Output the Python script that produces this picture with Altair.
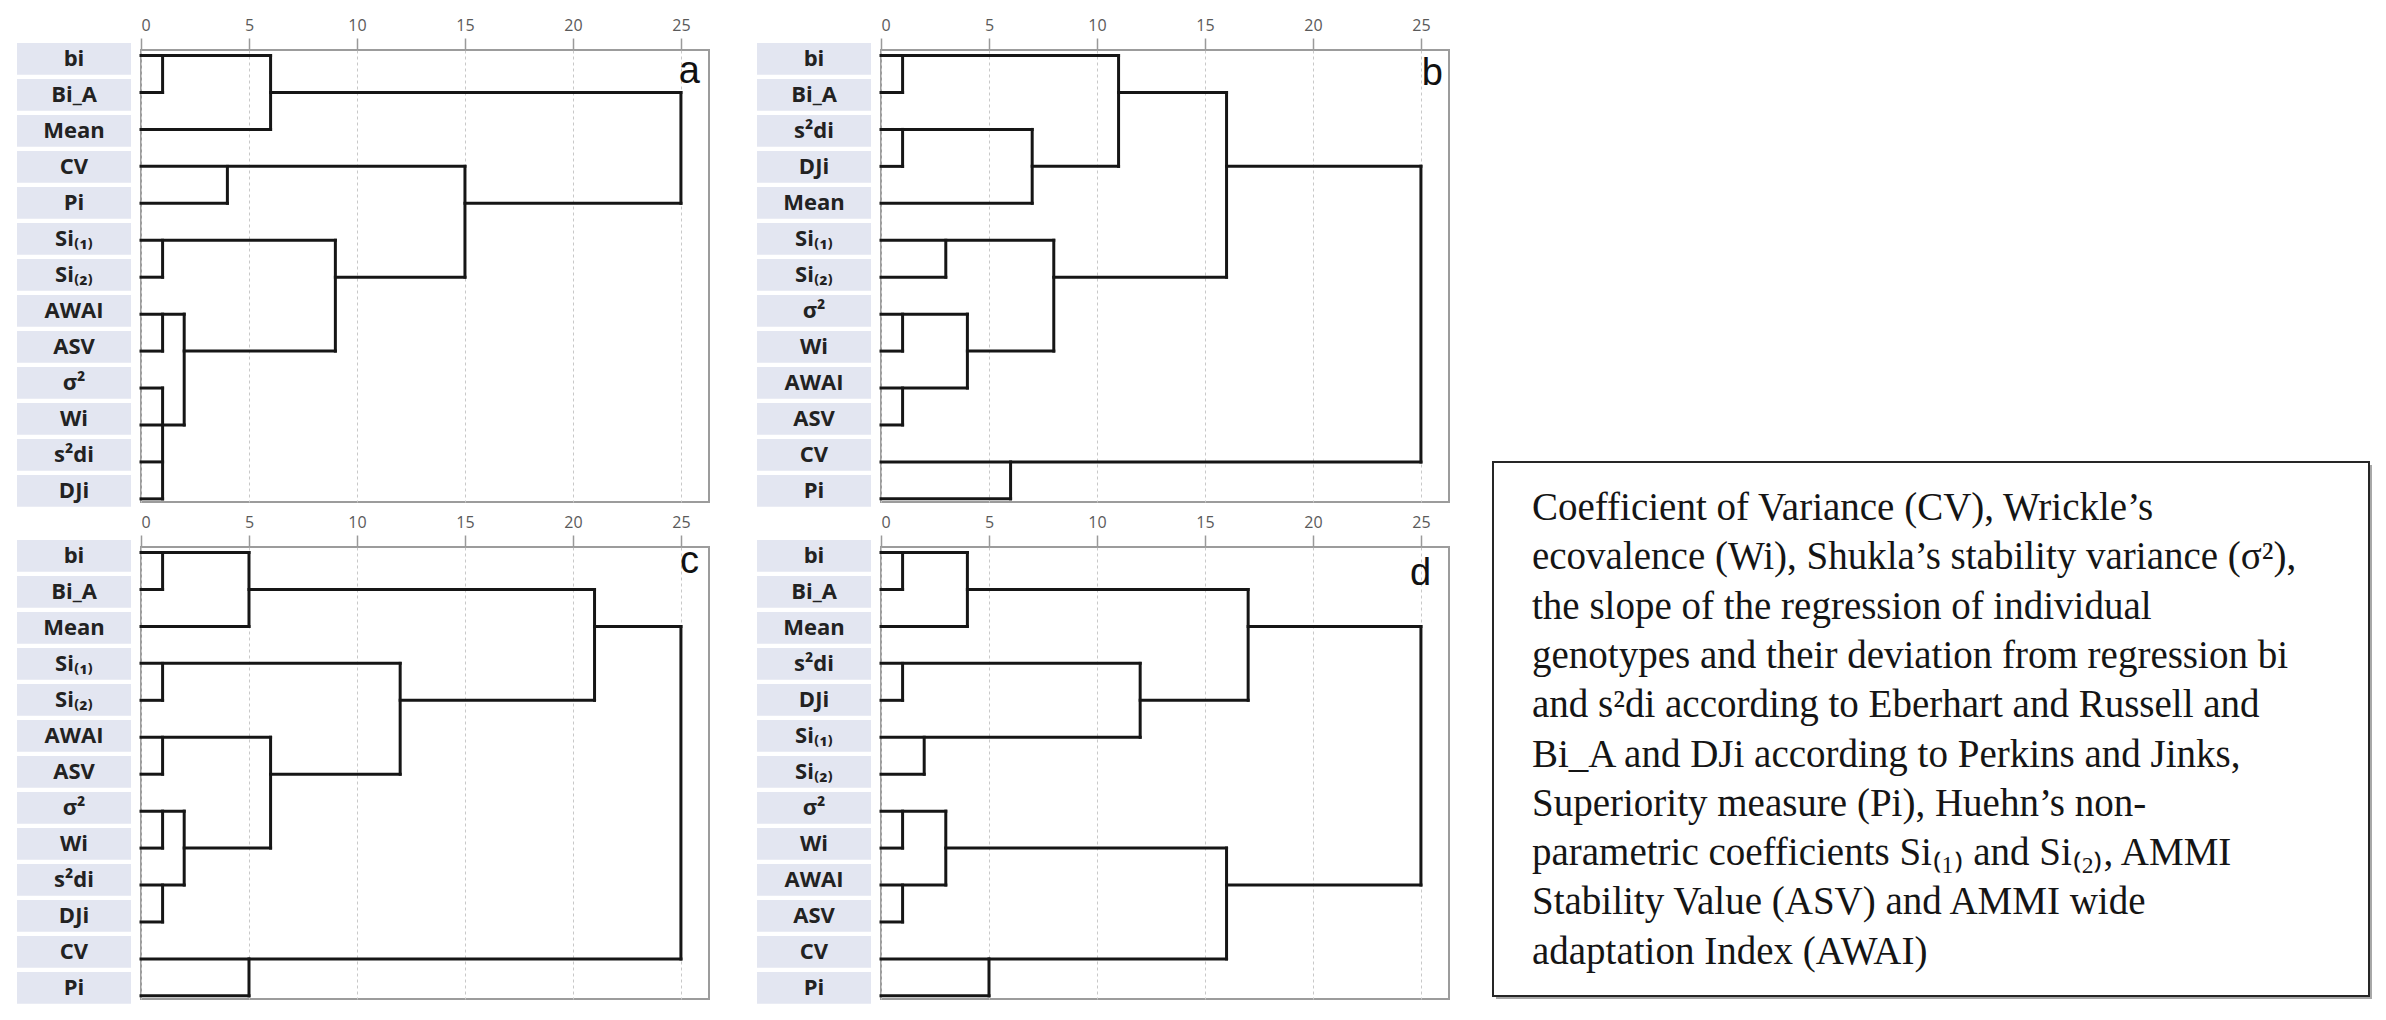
import altair as alt
import pandas as pd

# ---------------- data ----------------
X_TICKS = [0, 5, 10, 15, 20, 25]
X_MAX = 26.3
PANELS = ["a", "b", "c", "d"]

labels_a = ["bi", "Bi_A", "Mean", "CV", "Pi", "Si₍₁₎", "Si₍₂₎", "AWAI", "ASV", "σ²", "Wi", "s²di", "DJi"]
hseg_a = [(0, 0, 6), (1, 0, 1), (1, 6, 25), (2, 0, 6), (3, 0, 15), (4, 0, 4), (4, 15, 25),
          (5, 0, 9), (6, 0, 1), (6, 9, 15), (7, 0, 2), (8, 0, 1), (8, 2, 9), (9, 0, 1),
          (10, 0, 2), (11, 0, 1), (12, 0, 1)]
vseg_a = [(1, 0, 1), (6, 0, 2), (4, 3, 4), (25, 1, 4), (15, 3, 6), (1, 5, 6), (9, 5, 8),
          (1, 7, 8), (2, 7, 10), (1, 9, 12)]

labels_b = ["bi", "Bi_A", "s²di", "DJi", "Mean", "Si₍₁₎", "Si₍₂₎", "σ²", "Wi", "AWAI", "ASV", "CV", "Pi"]
hseg_b = [(0, 0, 11), (1, 0, 1), (1, 11, 16), (2, 0, 7), (3, 0, 1), (3, 7, 11), (3, 16, 25),
          (4, 0, 7), (5, 0, 8), (6, 0, 3), (6, 8, 16), (7, 0, 4), (8, 0, 1), (8, 4, 8),
          (9, 0, 4), (10, 0, 1), (11, 0, 25), (12, 0, 6)]
vseg_b = [(1, 0, 1), (11, 0, 3), (1, 2, 3), (7, 2, 4), (16, 1, 6), (25, 3, 11), (3, 5, 6),
          (8, 5, 8), (1, 7, 8), (4, 7, 9), (1, 9, 10), (6, 11, 12)]

labels_c = ["bi", "Bi_A", "Mean", "Si₍₁₎", "Si₍₂₎", "AWAI", "ASV", "σ²", "Wi", "s²di", "DJi", "CV", "Pi"]
hseg_c = [(0, 0, 5), (1, 0, 1), (1, 5, 21), (2, 0, 5), (2, 21, 25), (3, 0, 12), (4, 0, 1),
          (4, 12, 21), (5, 0, 6), (6, 0, 1), (6, 6, 12), (7, 0, 2), (8, 0, 1), (8, 2, 6),
          (9, 0, 2), (10, 0, 1), (11, 0, 25), (12, 0, 5)]
vseg_c = [(1, 0, 1), (5, 0, 2), (21, 1, 4), (25, 2, 11), (1, 3, 4), (12, 3, 6), (1, 5, 6),
          (6, 5, 8), (1, 7, 8), (2, 7, 9), (1, 9, 10), (5, 11, 12)]

labels_d = ["bi", "Bi_A", "Mean", "s²di", "DJi", "Si₍₁₎", "Si₍₂₎", "σ²", "Wi", "AWAI", "ASV", "CV", "Pi"]
hseg_d = [(0, 0, 4), (1, 0, 1), (1, 4, 17), (2, 0, 4), (2, 17, 25), (3, 0, 12), (4, 0, 1),
          (4, 12, 17), (5, 0, 12), (6, 0, 2), (7, 0, 3), (8, 0, 1), (8, 3, 16), (9, 0, 3),
          (9, 16, 25), (10, 0, 1), (11, 0, 16), (12, 0, 5)]
vseg_d = [(1, 0, 1), (4, 0, 2), (17, 1, 4), (25, 2, 9), (1, 3, 4), (12, 3, 5), (2, 5, 6),
          (1, 7, 8), (3, 7, 9), (1, 9, 10), (16, 8, 11), (5, 11, 12)]

# panel letter anchor (right edge, baseline) in data units
letter_x = [25.88, 26.02, 25.84, 25.47]
letter_y = [0.74, 0.80, 0.55, 0.88]

TEXT_LINES = [
    "Coefficient of Variance (CV), Wrickle’s",
    "ecovalence (Wi), Shukla’s stability variance (σ²),",
    "the slope of the regression of individual",
    "genotypes and their deviation from regression bi",
    "and s²di according to Eberhart and Russell and",
    "Bi_A and DJi according to Perkins and Jinks,",
    "Superiority measure (Pi), Huehn’s non-",
    "parametric coefficients Si₍₁₎ and Si₍₂₎, AMMI",
    "Stability Value (ASV) and AMMI wide",
    "adaptation Index (AWAI)",
]

# ---------------- layout constants ----------------
DEN_W = 568
DEN_H = 452
YDOM = [-0.15, 12.085]
LAB_YDOM = [-0.247, 12.309]
BOX_HALF = 0.44
LAB_X0, LAB_X1 = -124, -10
LINE_COLOR = "#161616"

xs = alt.Scale(domain=[0, X_MAX], nice=False, zero=False)
ys = alt.Scale(domain=YDOM, reverse=True, nice=False, zero=False)
lys = alt.Scale(domain=LAB_YDOM, reverse=True, nice=False, zero=False)

x_axis = alt.Axis(
    orient="top", values=X_TICKS, title=None, grid=True,
    gridDash=[3, 3], gridColor="#c8c8c8", gridWidth=1,
    domain=False, tickColor="#9a9a9a", tickSize=12, tickWidth=1.5,
    labelPadding=5, labelFontSize=16, labelColor="#5a5a5a", labelFont="Open Sans")


def panel(labels, hsegs, vsegs, letter, lx, ly):
    seg_rows = [{"x": x0, "x2": x1, "y": r, "y2": r} for r, x0, x1 in hsegs]
    seg_rows += [{"x": x, "x2": x, "y": r0, "y2": r1} for x, r0, r1 in vsegs]
    segs = pd.DataFrame(seg_rows)
    labs = pd.DataFrame({"label": labels, "row": list(range(len(labels)))})
    let_df = pd.DataFrame({"label": [letter], "x": [lx], "y": [ly]})

    lines = alt.Chart(segs).mark_rule(
        color=LINE_COLOR, strokeWidth=3, strokeCap="square"
    ).encode(
        x=alt.X("x:Q", scale=xs, axis=x_axis),
        x2="x2:Q",
        y=alt.Y("y:Q", scale=ys, axis=None),
        y2="y2:Q",
    )
    let = alt.Chart(let_df).mark_text(
        font="Liberation Sans", fontSize=38, align="right", baseline="alphabetic",
        color="#111111"
    ).encode(
        x=alt.X("x:Q", scale=xs, axis=x_axis),
        y=alt.Y("y:Q", scale=ys, axis=None),
        text="label:N",
    )
    boxes = alt.Chart(labs).transform_calculate(
        r0=f"datum.row - {BOX_HALF}", r1=f"datum.row + {BOX_HALF}"
    ).mark_rect(color="#e3e6f1").encode(
        x=alt.value(LAB_X0), x2=alt.value(LAB_X1),
        y=alt.Y("r0:Q", scale=lys, axis=None), y2="r1:Q",
    )
    txt = alt.Chart(labs).mark_text(
        font="Open Sans", fontWeight="bold", fontSize=22, color="#222222"
    ).encode(
        x=alt.value((LAB_X0 + LAB_X1) / 2),
        y=alt.Y("row:Q", scale=lys, axis=None),
        text="label:N",
    )
    return alt.layer(boxes, txt, lines, let).resolve_scale(y="independent").properties(
        width=DEN_W, height=DEN_H,
        view=alt.ViewBackground(stroke="#9c9c9c", strokeWidth=2))


all_labels = [labels_a, labels_b, labels_c, labels_d]
all_h = [hseg_a, hseg_b, hseg_c, hseg_d]
all_v = [vseg_a, vseg_b, vseg_c, vseg_d]
charts = [panel(all_labels[i], all_h[i], all_v[i], PANELS[i], letter_x[i], letter_y[i])
          for i in range(4)]

grid = alt.concat(*charts, columns=2, spacing={"row": 45, "column": 172}, bounds="flush")

one = pd.DataFrame({"k": [0]})
BOX_TOP, BOX_BOT = 412, 946
shadow = alt.Chart(one).mark_rect(fill="#a8a8a8").encode(
    x=alt.value(3), x2=alt.value(879), y=alt.value(BOX_TOP + 3), y2=alt.value(BOX_BOT + 3))
box = alt.Chart(one).mark_rect(fill="white", stroke="#262626", strokeWidth=2).encode(
    x=alt.value(0), x2=alt.value(876), y=alt.value(BOX_TOP), y2=alt.value(BOX_BOT))
para = alt.Chart(one).mark_text(
    font="Liberation Serif", fontSize=39, align="left", baseline="alphabetic",
    lineHeight=49.3, color="#151515"
).encode(x=alt.value(39), y=alt.value(BOX_TOP + 58), text=alt.value(TEXT_LINES))
textbox = alt.layer(shadow, box, para).properties(
    width=877, height=952, view=alt.ViewBackground(stroke="transparent"))

chart = alt.hconcat(grid, textbox, spacing=41).properties(
    padding={"left": 8, "top": 8, "right": 0, "bottom": 0},
    background="white",
).configure_view(stroke="transparent")

chart.save("out.html", embed_options={"renderer": "svg", "actions": False})
